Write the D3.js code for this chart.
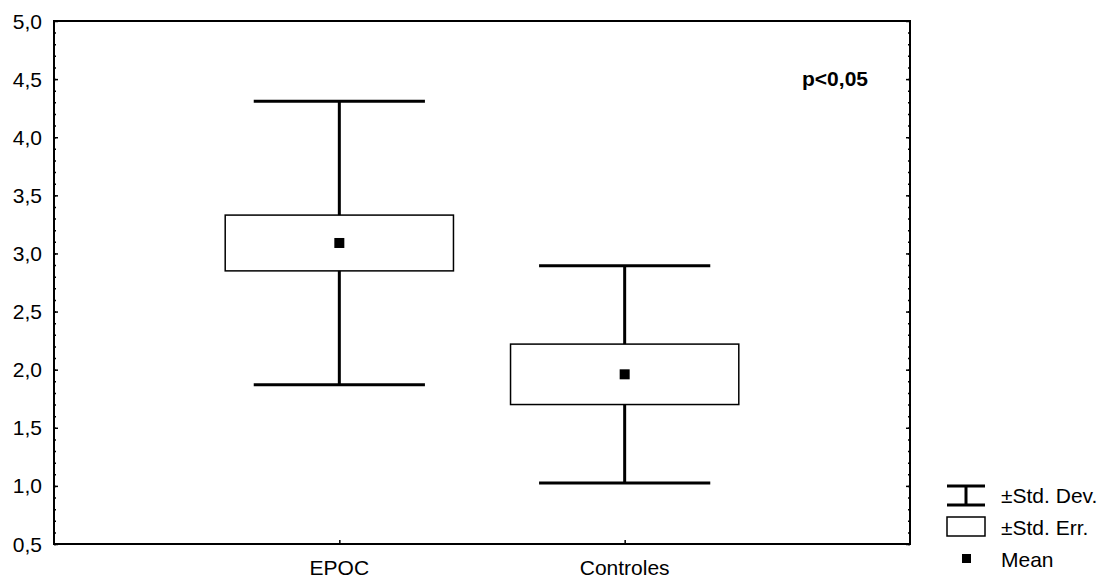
<!DOCTYPE html>
<html>
<head>
<meta charset="utf-8">
<script src="https://cdn.jsdelivr.net/npm/d3@7"></script>
<style>
  html, body { margin: 0; padding: 0; background: #fff; }
  svg { display: block; font-family: "Liberation Sans", Arial, sans-serif; }
</style>
</head>
<body>
<svg id="chart" width="1107" height="579"></svg>
<script>
// ---- data ----
const categories = ["EPOC", "Controles"];
const means = [3.09, 1.96];
const stdErr = [0.24, 0.26];
const stdDev = [1.22, 0.935];
const yTicks = [0.5, 1.0, 1.5, 2.0, 2.5, 3.0, 3.5, 4.0, 4.5, 5.0];
const annotation = "p<0,05";
const legendLabels = ["±Std. Dev.", "±Std. Err.", "Mean"];

// ---- layout ----
const svg = d3.select("#chart");
const L = 54, R = 910, T = 21, B = 544;

const y = d3.scaleLinear().domain([0.5, 5.0]).range([B, T]);
const x = d3.scalePoint().domain(categories).range([L, R]).padding(1);
const step = x.step();
const fmt = v => d3.format(".1f")(v).replace(".", ",");

// frame
svg.append("rect").attr("x", L).attr("y", T).attr("width", R - L).attr("height", B - T)
  .attr("fill", "none").attr("stroke", "#000").attr("stroke-width", 2);

// left axis (ticks inward)
const leftAxis = d3.axisRight(y).tickValues(yTicks).tickSize(4).tickFormat("");
const minorTicks = d3.range(5, 50).map(d => d / 10);
const gl = svg.append("g").attr("transform", `translate(${L},0)`);
gl.call(d3.axisRight(y).tickValues(minorTicks).tickSize(2).tickFormat(""));
gl.call(g => g.select(".domain").remove());
const gl2 = svg.append("g").attr("transform", `translate(${L},0)`).call(leftAxis);
gl2.select(".domain").remove();
svg.selectAll("g .tick line").attr("stroke", "#000").attr("stroke-width", 1.5);

// right axis (ticks inward)
const gr = svg.append("g").attr("transform", `translate(${R},0)`);
gr.call(d3.axisLeft(y).tickValues(minorTicks).tickSize(2).tickFormat(""));
gr.select(".domain").remove();
const gr2 = svg.append("g").attr("transform", `translate(${R},0)`)
  .call(d3.axisLeft(y).tickValues(yTicks).tickSize(4).tickFormat(""));
gr2.select(".domain").remove();

// bottom axis ticks (inward)
const gb = svg.append("g").attr("transform", `translate(0,${B})`)
  .call(d3.axisTop(x).tickSize(4).tickFormat(""));
gb.select(".domain").remove();
svg.selectAll(".tick line").attr("stroke", "#000").attr("stroke-width", 1.5);

// y tick labels
svg.append("g").selectAll("text").data(yTicks).join("text")
  .attr("x", L - 12).attr("y", d => y(d)).attr("dy", "0.36em")
  .attr("text-anchor", "end").attr("font-size", 21).attr("fill", "#000")
  .text(fmt);

// x labels
svg.append("g").selectAll("text").data(categories).join("text")
  .attr("x", d => x(d)).attr("y", 575)
  .attr("text-anchor", "middle").attr("font-size", 21).attr("fill", "#000")
  .text(d => d);

// boxes
const data = categories.map((c, i) => ({ c, m: means[i], se: stdErr[i], sd: stdDev[i] }));
const g = svg.append("g");
const boxW = step * 0.8, capW = step * 0.6, meanS = 10;

g.selectAll(".whisk").data(data).join("line")
  .attr("x1", d => x(d.c)).attr("x2", d => x(d.c))
  .attr("y1", d => y(d.m + d.sd)).attr("y2", d => y(d.m - d.sd))
  .attr("stroke", "#000").attr("stroke-width", 3);
g.selectAll(".capHi").data(data).join("line")
  .attr("x1", d => x(d.c) - capW / 2).attr("x2", d => x(d.c) + capW / 2)
  .attr("y1", d => y(d.m + d.sd)).attr("y2", d => y(d.m + d.sd))
  .attr("stroke", "#000").attr("stroke-width", 3);
g.selectAll(".capLo").data(data).join("line")
  .attr("x1", d => x(d.c) - capW / 2).attr("x2", d => x(d.c) + capW / 2)
  .attr("y1", d => y(d.m - d.sd)).attr("y2", d => y(d.m - d.sd))
  .attr("stroke", "#000").attr("stroke-width", 3);
g.selectAll(".box").data(data).join("rect")
  .attr("x", d => x(d.c) - boxW / 2).attr("width", boxW)
  .attr("y", d => y(d.m + d.se)).attr("height", d => y(d.m - d.se) - y(d.m + d.se))
  .attr("fill", "#fff").attr("stroke", "#000").attr("stroke-width", 1.5);
g.selectAll(".mean").data(data).join("rect")
  .attr("x", d => x(d.c) - meanS / 2).attr("y", d => y(d.m) - meanS / 2)
  .attr("width", meanS).attr("height", meanS).attr("fill", "#000");

// annotation
svg.append("text").attr("x", 868).attr("y", 86).attr("text-anchor", "end")
  .attr("font-size", 21).attr("font-weight", "bold").attr("fill", "#000").text(annotation);

// legend
const lg = svg.append("g");
const lx0 = 947, lx1 = 985, lmid = 966, tx = 1001;
// Std Dev icon
lg.append("line").attr("x1", lx0).attr("x2", lx1).attr("y1", 486).attr("y2", 486).attr("stroke", "#000").attr("stroke-width", 3);
lg.append("line").attr("x1", lx0).attr("x2", lx1).attr("y1", 505).attr("y2", 505).attr("stroke", "#000").attr("stroke-width", 3);
lg.append("line").attr("x1", lmid).attr("x2", lmid).attr("y1", 486).attr("y2", 505).attr("stroke", "#000").attr("stroke-width", 3);
// Std Err icon
lg.append("rect").attr("x", lx0).attr("y", 517).attr("width", lx1 - lx0).attr("height", 19)
  .attr("fill", "#fff").attr("stroke", "#000").attr("stroke-width", 1.5);
// Mean icon
lg.append("rect").attr("x", 962).attr("y", 554).attr("width", 9).attr("height", 9).attr("fill", "#000");
const legY = [495, 527, 559];
lg.selectAll("text").data(legendLabels).join("text")
  .attr("x", tx).attr("y", (d, i) => legY[i]).attr("dy", "0.36em")
  .attr("font-size", 21).attr("fill", "#000").text(d => d);
</script>
</body>
</html>
